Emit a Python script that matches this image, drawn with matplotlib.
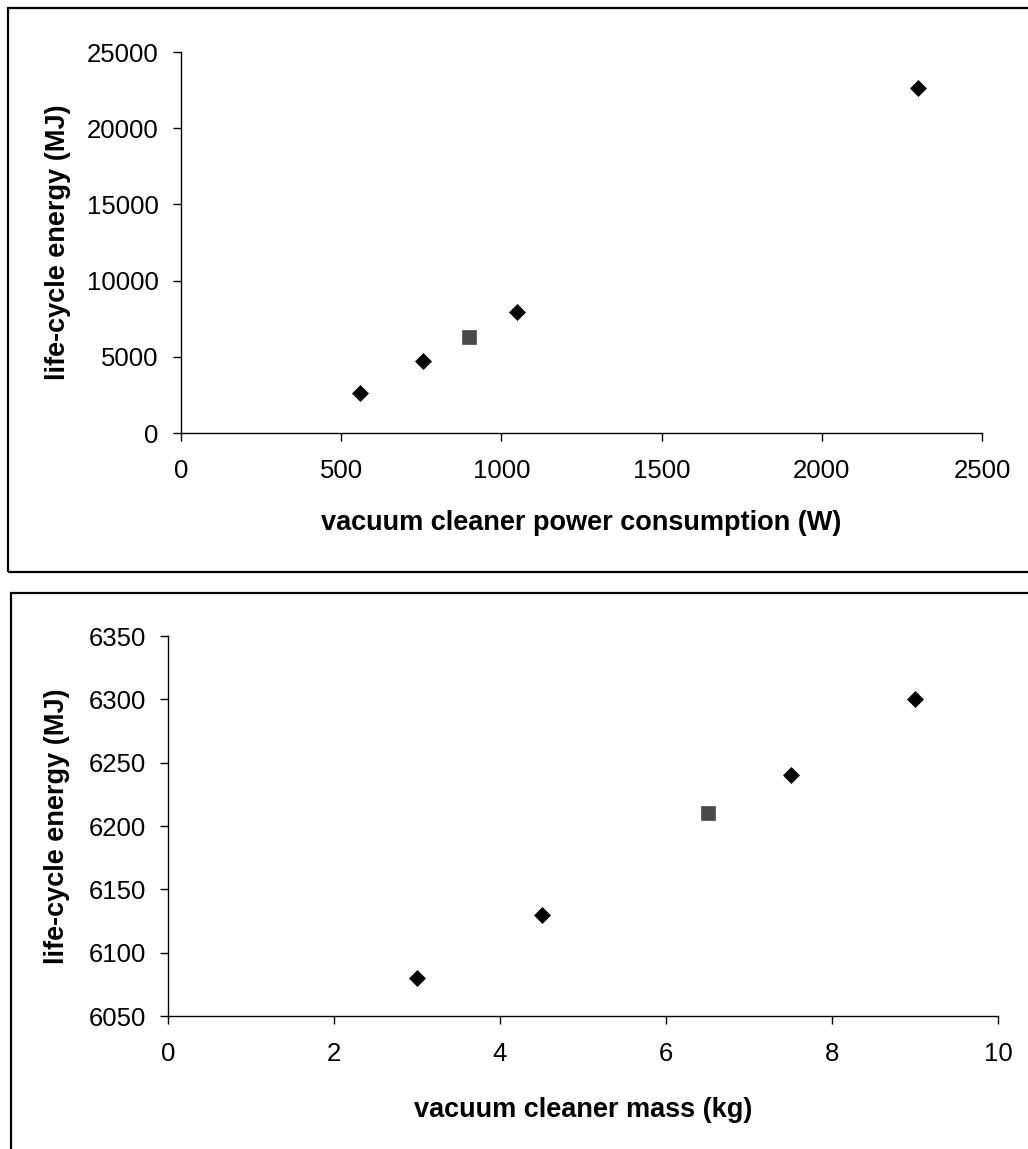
import matplotlib
matplotlib.use('Agg')
import matplotlib.pyplot as plt
from matplotlib.patches import Rectangle

# panel 1: power consumption vs life-cycle energy
power_w = [560, 755, 1050, 2300]
power_energy = [2650, 4750, 7950, 22650]
power_base_w = [900]
power_base_energy = [6270]

# panel 2: mass vs life-cycle energy
mass_kg = [3, 4.5, 7.5, 9]
mass_energy = [6080, 6130, 6240, 6300]
mass_base_kg = [6.5]
mass_base_energy = [6210]

plt.rcParams['font.family'] = ['Liberation Sans', 'DejaVu Sans']

fig = plt.figure(figsize=(10.28, 11.49), dpi=100)

# outer frames around each panel
fig.add_artist(Rectangle((8 / 1028, 1 - 572 / 1149), 1.2, 564 / 1149,
                         transform=fig.transFigure, fill=False, lw=1.6, ec='black'))
fig.add_artist(Rectangle((11 / 1028, -0.1), 1.2, 1 - 593 / 1149 + 0.1,
                         transform=fig.transFigure, fill=False, lw=1.6, ec='black'))


def style_axes(ax, xlabel, ylabel, ylab_x, xlab_y):
    for s in ['top', 'right']:
        ax.spines[s].set_visible(False)
    for s in ['left', 'bottom']:
        ax.spines[s].set_linewidth(1.0)
    ax.tick_params(axis='both', direction='out', length=6, width=1.0, labelsize=18.5)
    ax.tick_params(axis='x', pad=13)
    ax.tick_params(axis='y', pad=10)
    ax.set_xlabel(xlabel, fontsize=19.5, fontweight='bold', va='center')
    ax.set_ylabel(ylabel, fontsize=19.5, fontweight='bold', va='center')
    ax.yaxis.set_label_coords(ylab_x, 0.5)
    ax.xaxis.set_label_coords(0.5, xlab_y)


ax1 = fig.add_axes([181 / 1028, 1 - 433 / 1149, 801 / 1028, 381 / 1149])
ax1.plot(power_w, power_energy, 'D', color='black', ms=8.5, mew=0.5, clip_on=False)
ax1.plot(power_base_w, power_base_energy, 's', color='#4a4a4a', ms=10, mew=0.5, clip_on=False)
ax1.set_xlim(0, 2500)
ax1.set_ylim(0, 25000)
ax1.set_xticks([0, 500, 1000, 1500, 2000, 2500])
ax1.set_yticks([0, 5000, 10000, 15000, 20000, 25000])
style_axes(ax1, 'vacuum cleaner power consumption (W)', 'life-cycle energy (MJ)',
           (58 - 181) / 801, -(523 - 433) / 381)

ax2 = fig.add_axes([168 / 1028, 1 - 1016 / 1149, 830 / 1028, 380 / 1149])
ax2.plot(mass_kg, mass_energy, 'D', color='black', ms=8.5, mew=0.5, clip_on=False)
ax2.plot(mass_base_kg, mass_base_energy, 's', color='#4a4a4a', ms=10, mew=0.5, clip_on=False)
ax2.set_xlim(0, 10)
ax2.set_ylim(6050, 6350)
ax2.set_xticks([0, 2, 4, 6, 8, 10])
ax2.set_yticks([6050, 6100, 6150, 6200, 6250, 6300, 6350])
style_axes(ax2, 'vacuum cleaner mass (kg)', 'life-cycle energy (MJ)',
           (57 - 168) / 830, -(1110 - 1016) / 380)

fig.savefig('out.png', dpi=100, facecolor='white')
